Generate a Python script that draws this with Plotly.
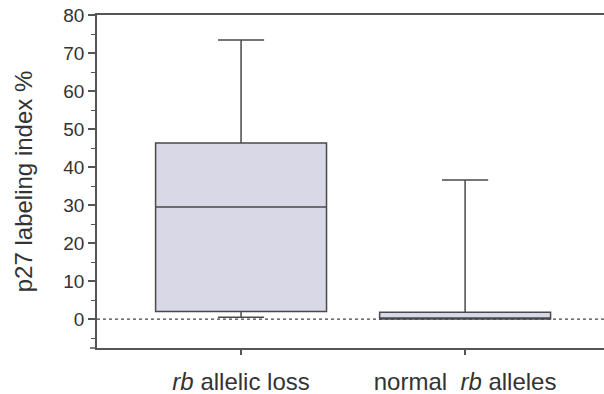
import plotly.graph_objects as go

categories = ["<i>rb</i> allelic loss", "normal\u00a0\u00a0<i>rb</i> alleles"]
positions = [0, 1]
q1 = [2.0, 0.0]
median = [29.5, 0.3]
q3 = [46.3, 1.8]
lowerfence = [0.5, 0.0]
upperfence = [73.4, 36.6]
y_ticks = [0, 10, 20, 30, 40, 50, 60, 70, 80]

fig = go.Figure()
fig.add_trace(go.Box(
    x=positions, q1=q1, median=median, q3=q3,
    lowerfence=lowerfence, upperfence=upperfence,
    width=0.763, whiskerwidth=0.27,
    fillcolor="#d9d8e6", line=dict(color="#4a4a4a", width=1.5),
    boxpoints=False, showlegend=False, hoverinfo="skip",
))

fig.add_shape(type="line", xref="paper", yref="y", x0=0, x1=1, y0=0, y1=0,
              line=dict(color="#444", width=1.2, dash="dot"), layer="below")
fig.add_shape(type="line", xref="paper", yref="paper", x0=-0.014, x1=0, y0=0, y1=0,
              line=dict(color="#555", width=1.5))

fig.update_layout(
    width=604, height=394,
    margin=dict(l=97, r=0, t=15, b=46, autoexpand=False),
    paper_bgcolor="white", plot_bgcolor="white",
    font=dict(family="Liberation Sans, Arial, sans-serif", color="#333"),
    xaxis=dict(
        range=[-0.643, 1.62], tickvals=positions, ticktext=categories,
        showline=True, linecolor="#555", linewidth=1.5, mirror=True,
        ticks="outside", ticklen=5, tickcolor="#555", tickwidth=1.5,
        showgrid=False, zeroline=False, tickfont=dict(size=24),
        ticklabelstandoff=6, automargin=False,
    ),
    yaxis=dict(
        range=[-7.6, 80], tickvals=y_ticks,
        showline=True, linecolor="#555", linewidth=1.5,
        ticks="outside", ticklen=7, tickcolor="#555", tickwidth=1.5,
        minor=dict(dtick=5, tick0=0, ticks="outside", ticklen=4, tickcolor="#555", tickwidth=1.2),
        showgrid=False, zeroline=False, tickfont=dict(size=19),
        title=dict(text="p27 labeling index %", font=dict(size=24), standoff=24),
        automargin=False,
    ),
)

fig.write_html(
    "out.html",
    config={"displayModeBar": False},
    post_script="document.body.style.margin='0';document.body.style.overflow='hidden';",
)
